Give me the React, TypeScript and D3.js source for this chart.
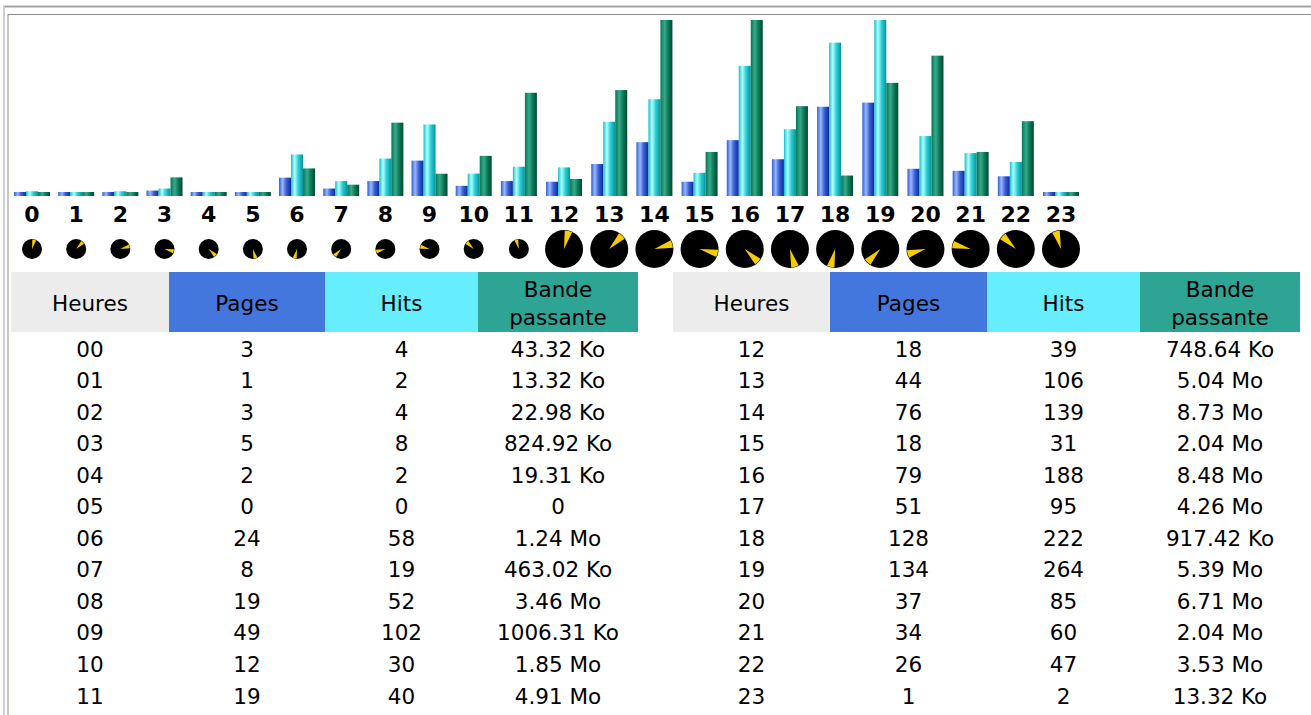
import * as d3 from "d3";

const hourLabels = ["00","01","02","03","04","05","06","07","08","09","10","11","12","13","14","15","16","17","18","19","20","21","22","23"];
const pages = [3,1,3,5,2,0,24,8,19,49,12,19,18,44,76,18,79,51,128,134,37,34,26,1];
const hits = [4,2,4,8,2,0,58,19,52,102,30,40,39,106,139,31,188,95,222,264,85,60,47,2];
const bandwidth = ["43.32 Ko","13.32 Ko","22.98 Ko","824.92 Ko","19.31 Ko","0","1.24 Mo","463.02 Ko","3.46 Mo","1006.31 Ko","1.85 Mo","4.91 Mo","748.64 Ko","5.04 Mo","8.73 Mo","2.04 Mo","8.48 Mo","4.26 Mo","917.42 Ko","5.39 Mo","6.71 Mo","2.04 Mo","3.53 Mo","13.32 Ko"];
const headers = ["Heures", "Pages", "Hits", "Bande passante"];
const headerColors = ["#ececec", "#4477dd", "#66eeff", "#2ea495"];

const FONT = "'DejaVu Sans', Verdana, sans-serif";

function toKo(s: string) {
  const [n, unit] = s.split(" ");
  return +n * (unit === "Mo" ? 1024 : 1);
}

export default function App() {
  const width = 1311;
  const height = 715;
  const baseline = 196;
  const chartTop = 20;
  const barW = 12;

  const bwKo = bandwidth.map(toKo);
  // hour columns are a bit wider once the labels get two digits
  const x = d3.scaleLinear().domain([0, 10, 23]).range([14, 455.7, 1043]);
  const yHits = d3.scaleLinear().domain([0, d3.max(hits)!]).range([0, 180]);
  const yBw = d3.scaleLinear().domain([0, d3.max(bwKo)!]).range([0, 180]);
  const barH = (v: number) => Math.min(baseline - chartTop, Math.max(4, v + 2));

  const arc = d3.arc<{ s: number; e: number; r: number }>()
    .innerRadius(0)
    .outerRadius((d) => d.r)
    .startAngle((d) => d.s)
    .endAngle((d) => d.e);

  const series = [
    { key: "p", values: pages.map((v) => barH(yHits(v))) },
    { key: "h", values: hits.map((v) => barH(yHits(v))) },
    { key: "k", values: bwKo.map((v) => barH(yBw(v))) },
  ];

  const tables = [
    { cols: [11, 169, 325, 478, 638], rows: d3.range(0, 12) },
    { cols: [673, 830, 987, 1140, 1300], rows: d3.range(12, 24) },
  ];
  const rowY = d3.scalePoint<number>().domain(d3.range(12)).range([349, 696]);

  return (
    <svg width={width} height={height} style={{ position: "absolute", left: 0, top: 0, background: "#fff" }}>
      <defs>
        <linearGradient id="grad-p" x1="0" x2="1" y1="0" y2="0">
          <stop offset="0%" stopColor="#2f5fd8" />
          <stop offset="30%" stopColor="#9ab8ff" />
          <stop offset="60%" stopColor="#3b62d6" />
          <stop offset="100%" stopColor="#0b2a9a" />
        </linearGradient>
        <linearGradient id="grad-h" x1="0" x2="1" y1="0" y2="0">
          <stop offset="0%" stopColor="#10c0cc" />
          <stop offset="30%" stopColor="#b4ffff" />
          <stop offset="60%" stopColor="#2bd0d6" />
          <stop offset="100%" stopColor="#08919c" />
        </linearGradient>
        <linearGradient id="grad-k" x1="0" x2="1" y1="0" y2="0">
          <stop offset="0%" stopColor="#007a56" />
          <stop offset="35%" stopColor="#3aa88a" />
          <stop offset="65%" stopColor="#0a7a5a" />
          <stop offset="100%" stopColor="#00492f" />
        </linearGradient>
      </defs>

      {/* frames */}
      <rect x={3} y={5} width={2} height={height} fill="#ccccdd" />
      <rect x={3} y={5} width={width} height={1} fill="#d4d4e0" />
      <rect x={5} y={6} width={width} height={1.5} fill="#a0a0a0" />
      <rect x={8} y={14} width={width} height={1} fill="#8c8c8c" />
      <rect x={7.5} y={14} width={1} height={height} fill="#8c8c8c" />

      {/* bars */}
      {series.map((s, si) => (
        <g key={s.key} fill={`url(#grad-${s.key})`}>
          {s.values.map((h, i) => (
            <rect key={i} x={x(i) + si * barW} y={baseline - h} width={barW} height={h} />
          ))}
        </g>
      ))}

      {/* hour labels */}
      {hourLabels.map((l, i) => (
        <text
          key={l}
          x={x(i) + 18}
          y={222}
          textAnchor="middle"
          fontFamily={FONT}
          fontWeight="bold"
          fontSize={22}
        >
          {String(+l)}
        </text>
      ))}

      {/* clocks */}
      {hourLabels.map((l, i) => {
        const r = i < 12 ? 10 : 19;
        const h = i % 12;
        const s = ((h * 30 + 2) * Math.PI) / 180;
        const e = ((h * 30 + 26) * Math.PI) / 180;
        return (
          <g key={l} transform={`translate(${x(i) + 18},249)`}>
            <circle r={r} fill="#000" />
            <path d={arc({ s, e, r: r - 0.5 }) || ""} fill="#f5cc00" />
          </g>
        );
      })}

      {/* tables */}
      {tables.map((t, ti) => (
        <g key={ti} fontFamily={FONT} fontSize={21.5}>
          {headers.map((h, ci) => {
            const x0 = t.cols[ci];
            const x1 = t.cols[ci + 1];
            const cx = (x0 + x1) / 2;
            return (
              <g key={h}>
                <rect x={x0} y={272} width={x1 - x0} height={60} fill={headerColors[ci]} />
                {ci < 3 ? (
                  <text x={cx} y={303} textAnchor="middle" dominantBaseline="central">
                    {h}
                  </text>
                ) : (
                  <text x={cx} textAnchor="middle" dominantBaseline="central">
                    <tspan x={cx} y={289}>Bande</tspan>
                    <tspan x={cx} y={317}>passante</tspan>
                  </text>
                )}
              </g>
            );
          })}
          {t.rows.map((r, ri) => {
            const cells = [hourLabels[r], String(pages[r]), String(hits[r]), bandwidth[r]];
            return cells.map((c, ci) => (
              <text
                key={`${r}-${ci}`}
                x={(t.cols[ci] + t.cols[ci + 1]) / 2}
                y={rowY(ri)}
                textAnchor="middle"
                dominantBaseline="central"
              >
                {c}
              </text>
            ));
          })}
        </g>
      ))}
    </svg>
  );
}
